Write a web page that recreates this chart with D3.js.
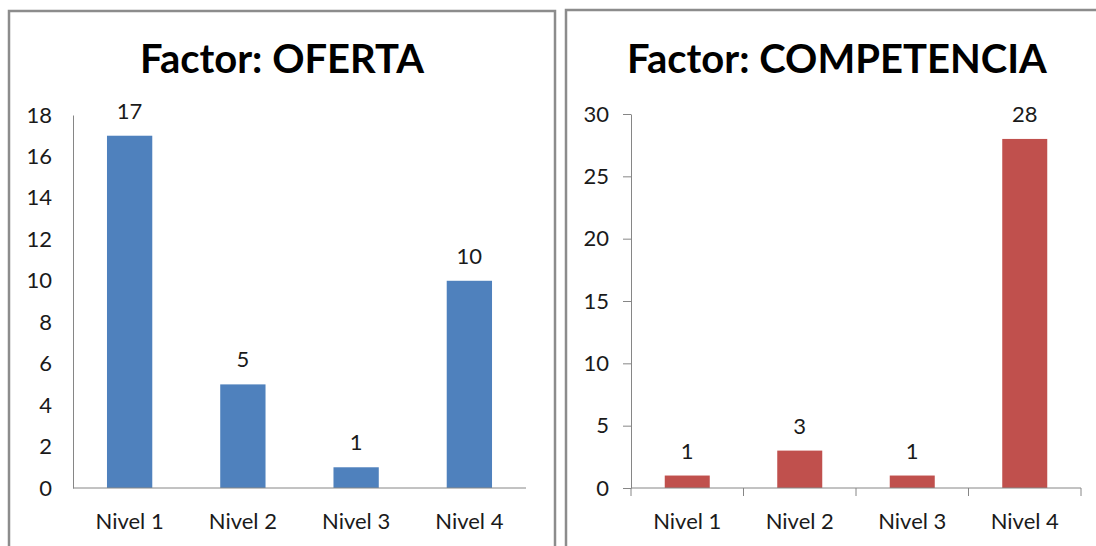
<!DOCTYPE html>
<html>
<head>
<meta charset="utf-8">
<script src="https://cdn.jsdelivr.net/npm/d3@7"></script>
<style>
  html, body { margin: 0; padding: 0; background: #fff; }
  svg { display: block; }
  text { font-family: Lato, "Open Sans", sans-serif; fill: #1a1a1a; }
</style>
</head>
<body>
<svg id="chart" width="1096" height="546"></svg>
<script>
const categories = ["Nivel 1", "Nivel 2", "Nivel 3", "Nivel 4"];
const ofertaValues = [17, 5, 1, 10];
const competenciaValues = [1, 3, 1, 28];
const ofertaTicks = [0, 2, 4, 6, 8, 10, 12, 14, 16, 18];
const competenciaTicks = [0, 5, 10, 15, 20, 25, 30];
const titles = ["Factor: OFERTA", "Factor: COMPETENCIA"];

const svg = d3.select("#chart");
const axisColor = "#868686";
const frameColor = "#8c8c8c";

const panels = [
  { title: titles[0], values: ofertaValues, ticks: ofertaTicks, max: 18,
    color: "#4F81BD", frame: [9, 11, 546, 560], xr: [73, 526], yr: [488, 115],
    titleX: 282, yTick: 0, yPad: 21, xTicks: false },
  { title: titles[1], values: competenciaValues, ticks: competenciaTicks, max: 30,
    color: "#C0504D", frame: [566, 10, 560, 560], xr: [631, 1081], yr: [488, 114],
    titleX: 837, yTick: 8, yPad: 14, xTicks: true }
];

panels.forEach(p => {
  const g = svg.append("g");
  // frame
  g.append("rect")
    .attr("x", p.frame[0]).attr("y", p.frame[1])
    .attr("width", p.frame[2]).attr("height", p.frame[3])
    .attr("fill", "none").attr("stroke", frameColor).attr("stroke-width", 2.5);

  // title
  g.append("text")
    .attr("x", p.titleX).attr("y", 73)
    .attr("text-anchor", "middle")
    .style("font-weight", "bold").style("font-size", "40px")
    .style("fill", "#000")
    .text(p.title);

  const x = d3.scaleBand().domain(categories).range(p.xr)
    .paddingInner(0.6).paddingOuter(0.3);
  const y = d3.scaleLinear().domain([0, p.max]).range(p.yr);

  // y axis
  const yAxis = d3.axisLeft(y).tickValues(p.ticks)
    .tickSizeInner(p.yTick).tickSizeOuter(0).tickPadding(p.yPad);
  const ya = g.append("g").attr("transform", `translate(${p.xr[0]},0)`).call(yAxis);
  ya.select(".domain").attr("stroke", axisColor);
  ya.selectAll(".tick line").attr("stroke", axisColor);
  ya.selectAll(".tick text").style("font-size", "22px").style("font-family", "Lato, sans-serif").attr("fill", "#1a1a1a");

  // bars
  g.selectAll("rect.bar").data(p.values).enter().append("rect")
    .attr("class", "bar")
    .attr("x", (d, i) => x(categories[i]))
    .attr("y", d => y(d))
    .attr("width", x.bandwidth())
    .attr("height", d => y(0) - y(d))
    .attr("fill", p.color);

  // value labels
  g.selectAll("text.val").data(p.values).enter().append("text")
    .attr("class", "val")
    .attr("x", (d, i) => x(categories[i]) + x.bandwidth() / 2)
    .attr("y", d => y(d) - 17)
    .attr("text-anchor", "middle")
    .style("font-size", "22px")
    .text(d => d);

  // x axis line
  g.append("line")
    .attr("x1", p.xr[0]).attr("x2", p.xr[1])
    .attr("y1", y(0)).attr("y2", y(0))
    .attr("stroke", axisColor);

  if (p.xTicks) {
    const bounds = d3.range(categories.length + 1).map(i => p.xr[0] + i * x.step());
    g.selectAll("line.xt").data(bounds).enter().append("line")
      .attr("class", "xt")
      .attr("x1", d => d).attr("x2", d => d)
      .attr("y1", y(0)).attr("y2", y(0) + 8)
      .attr("stroke", axisColor);
  }

  // category labels
  g.selectAll("text.cat").data(categories).enter().append("text")
    .attr("class", "cat")
    .attr("x", d => x(d) + x.bandwidth() / 2)
    .attr("y", 529)
    .attr("text-anchor", "middle")
    .style("font-size", "22px")
    .text(d => d);
});
</script>
</body>
</html>
